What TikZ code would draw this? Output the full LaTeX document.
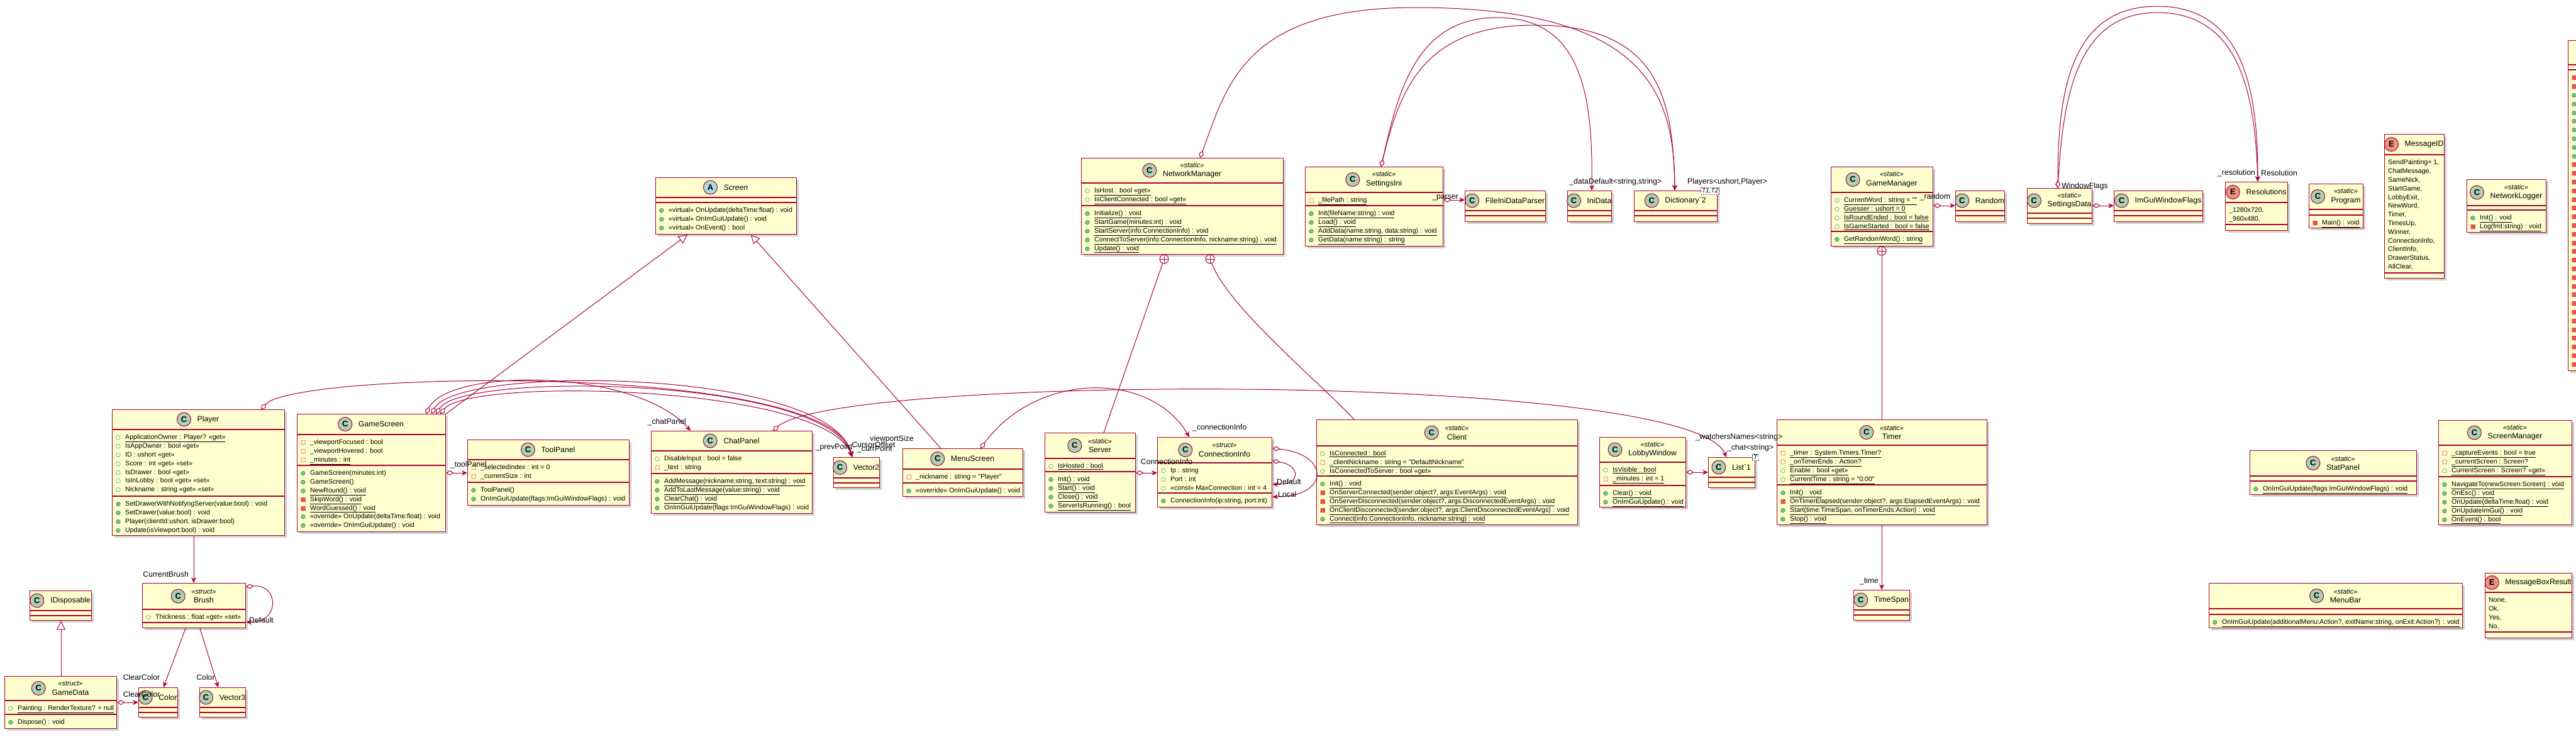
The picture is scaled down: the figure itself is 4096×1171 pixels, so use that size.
\documentclass[tikz,border=0pt]{standalone}
\usepackage{fontspec}
\newfontfamily\lsf{Liberation Sans}
\newfontfamily\symf{DejaVu Sans}
\usetikzlibrary{arrows.meta,shadows,calc}
\definecolor{bd}{HTML}{A80036}
\definecolor{bg}{HTML}{FEFECE}
\definecolor{cC}{HTML}{ADD1B2}
\definecolor{cE}{HTML}{EB937F}
\definecolor{cA}{HTML}{A9DCDF}
\definecolor{pubc}{HTML}{038048}
\definecolor{pubf}{HTML}{84BE84}
\definecolor{privc}{HTML}{C82930}
\definecolor{privf}{HTML}{F24D5C}
\newcommand\un[1]{\underline{#1}}
\newcommand\vicon[1]{\makebox[15pt][l]{\symf\fontsize{9}{9}\selectfont #1}}
\newcommand\ipf{\strut\vicon{\textcolor{pubc}{○}}}
\newcommand\ipm{\strut\vicon{\rlap{\textcolor{pubf}{●}}\textcolor{pubc}{○}}}
\newcommand\ivf{\strut\vicon{\textcolor{privc}{□}}}
\newcommand\ivm{\strut\vicon{\rlap{\textcolor{privf}{■}}\textcolor{privc}{□}}}
\newcommand\ev{\strut}
\newcommand\st[2]{{\fontsize{11}{13}\selectfont\itshape «#1»}\\#2}
\newcommand\uclass[9]{%
  \node[cbox, minimum width=#4, minimum height=#5+#6+#7] (#1) at (#2,#3) {};
  \draw[sepl] (#2,#3+#5) -- ++(#4,0);
  \draw[sepl] (#2,#3+#5+#6) -- ++(#4,0);
  \node[htext] (#1-t) at (#2+#4/2+16,#3+#5/2) {#9};
  \node[ic#8] (#1-i) at ($(#1-t.west)+(-21,0)$) {#8};
  \def\cx{#2}\def\cy{#3}\def\ch{#5}\def\chh{#6}\def\cn{#1}}
\newcommand\uatt[1]{\node[mtext] (\cn-a) at (\cx+6,\cy+\ch+6) {#1};}
\newcommand\umeth[1]{\node[mtext] (\cn-m) at (\cx+6,\cy+\ch+\chh+6) {#1};}
\tikzset{
  cbox/.style={rectangle, draw=bd, fill=bg, line width=1.3pt, anchor=north west, inner sep=0,
    drop shadow={shadow xshift=3pt, shadow yshift=-3pt, opacity=0.3, fill=black!60}},
  sepl/.style={draw=bd, line width=1.3pt},
  htext/.style={font=\lsf\fontsize{12.2}{14.5}\selectfont, align=center, inner sep=0},
  mtext/.style={anchor=north west, inner sep=0, align=left, font=\lsf\fontsize{10.6}{13.8}\selectfont},
  icC/.style={circle, draw=bd, line width=1pt, fill=cC, minimum size=22pt, inner sep=0,
    font=\lsf\bfseries\fontsize{13}{13}\selectfont},
  icE/.style={icC, fill=cE},
  icA/.style={icC, fill=cA},
  asc/.style={draw=bd, line width=1pt, -{Stealth[length=9pt, width=8pt, inset=3pt]}},
  agg/.style={draw=bd, line width=1pt, {Diamond[fill=white, length=12pt, width=8pt]}-{Stealth[length=9pt, width=8pt, inset=3pt]}},
  inh/.style={draw=bd, line width=1pt, -{Triangle[fill=white, length=14pt, width=14pt]}},
  pln/.style={draw=bd, line width=1pt},
  cplus/.style={circle, draw=bd, fill=white, line width=1pt, minimum size=14pt, inner sep=0,
    path picture={\draw[bd, line width=1pt] (path picture bounding box.north) -- (path picture bounding box.south)
      (path picture bounding box.west) -- (path picture bounding box.east);}},
  lbl/.style={font=\lsf\fontsize{12.2}{13}\selectfont, inner sep=0},
  tmpl/.style={draw=black, dash pattern=on 1.5pt off 1.5pt, line width=0.6pt, fill=white,
    font=\lsf\itshape\fontsize{10}{10}\selectfont, inner sep=1.5pt, anchor=north east}
}
\begin{document}
\begin{tikzpicture}[x=1pt, y=-1pt]
\lineskiplimit=-30pt\relax
\lineskip=0pt\relax
\useasboundingbox (0,0) rectangle (4096,1171);
\fill[white] (0,0) rectangle (4096,1171);

% ---------------- classes ----------------
\uclass{screen}{1042}{282}{224}{32}{8}{50}{A}{\textit{Screen}}
\umeth{\ipm «virtual» OnUpdate(deltaTime:float) : void\\ \ipm «virtual» OnImGuiUpdate() : void\\ \ipm «virtual» OnEvent() : bool}

\uclass{player}{178}{651}{274}{32}{106}{62}{C}{Player}
\uatt{\ipf\un{ApplicationOwner : Player? «get»}\\ \ipf IsAppOwner : bool «get»\\ \ipf ID : ushort «get»\\ \ipf Score : int «get» «set»\\ \ipf IsDrawer : bool «get»\\ \ipf IsInLobby : bool «get» «set»\\ \ipf Nickname : string «get» «set»}
\umeth{\ipm SetDrawerWithNotifyngServer(value:bool) : void\\ \ipm SetDrawer(value:bool) : void\\ \ipm Player(clientId:ushort, isDrawer:bool)\\ \ipm Update(isViewport:bool) : void}

\uclass{gamescreen}{472}{658}{236}{33}{49}{105}{C}{GameScreen}
\uatt{\ivf \_viewportFocused : bool\\ \ivf \_viewportHovered : bool\\ \ivf\un{\_minutes : int}}
\umeth{\ipm GameScreen(minutes:int)\\ \ipm GameScreen()\\ \ipm\un{NewRound() : void}\\ \ivm\un{SkipWord() : void}\\ \ivm\un{WordGuessed() : void}\\ \ipm «override» OnUpdate(deltaTime:float) : void\\ \ipm «override» OnImGuiUpdate() : void}

\uclass{toolpanel}{743}{699}{257}{32}{36}{36}{C}{ToolPanel}
\uatt{\ivf \_selectedIndex : int = 0\\ \ivf \_currentSize : int}
\umeth{\ipm ToolPanel()\\ \ipm OnImGuiUpdate(flags:ImGuiWindowFlags) : void}

\uclass{chatpanel}{1035}{685}{256}{32}{36}{63}{C}{ChatPanel}
\uatt{\ipf DisableInput : bool = false\\ \ivf \_text : string}
\umeth{\ipm\un{AddMessage(nickname:string, text:string) : void}\\ \ipm\un{AddToLastMessage(value:string) : void}\\ \ipm\un{ClearChat() : void}\\ \ipm OnImGuiUpdate(flags:ImGuiWindowFlags) : void}

\uclass{vector2}{1325}{727}{73}{33}{8}{7}{C}{Vector2}

\uclass{menuscreen}{1435}{713}{191}{33}{22}{21}{C}{MenuScreen}
\uatt{\ivf \_nickname : string = "Player"}
\umeth{\ipm «override» OnImGuiUpdate() : void}

\uclass{server}{1661}{688}{144}{41}{21}{64}{C}{\st{static}{Server}}
\uatt{\ipf\un{IsHosted : bool}}
\umeth{\ipm\un{Init() : void}\\ \ipm\un{Start() : void}\\ \ipm\un{Close() : void}\\ \ipm\un{ServerIsRunning() : bool}}

\uclass{conninfo}{1840}{695}{182}{41}{48}{22}{C}{\st{struct}{ConnectionInfo}}
\uatt{\ipf Ip : string\\ \ipf Port : int\\ \ipf «const» MaxConnection : int = 4}
\umeth{\ipm ConnectionInfo(ip:string, port:int)}

\uclass{client}{2093}{667}{415}{42}{48}{77}{C}{\st{static}{Client}}
\uatt{\ipf\un{IsConnected : bool}\\ \ivf\un{\_clientNickname : string = "DefaultNickname"}\\ \ipf\un{IsConnectedToServer : bool «get»}}
\umeth{\ipm\un{Init() : void}\\ \ivm\un{OnServerConnected(sender:object?, args:EventArgs) : void}\\ \ivm\un{OnServerDisconnected(sender:object?, args:DisconnectedEventArgs) : void}\\ \ivm\un{OnClientDisconnected(sender:object?, args:ClientDisconnectedEventArgs) : void}\\ \ipm\un{Connect(info:ConnectionInfo, nickname:string) : void}}

\uclass{lobby}{2543}{695}{137}{40}{37}{34}{C}{\st{static}{LobbyWindow}}
\uatt{\ipf\un{IsVisible : bool}\\ \ivf\un{\_minutes : int = 1}}
\umeth{\ipm\un{Clear() : void}\\ \ipm\un{OnImGuiUpdate() : void}}

\uclass{list}{2716}{727}{74}{32}{8}{8}{C}{List`1}
\node[tmpl] (list-T) at (2796,722) {T};

\uclass{timer}{2825}{667}{334}{41}{63}{63}{C}{\st{static}{Timer}}
\uatt{\ivf\un{\_timer : System.Timers.Timer?}\\ \ivf\un{\_onTimerEnds : Action?}\\ \ipf\un{Enable : bool «get»}\\ \ipf\un{CurrentTime : string = "0:00"}}
\umeth{\ipm\un{Init() : void}\\ \ivm\un{OnTimerElapsed(sender:object?, args:ElapsedEventArgs) : void}\\ \ipm\un{Start(time:TimeSpan, onTimerEnds:Action) : void}\\ \ipm\un{Stop() : void}}

\uclass{timespan}{2947}{938}{89}{32}{8}{8}{C}{TimeSpan}

\uclass{nm}{1719}{251}{321}{40}{36}{77}{C}{\st{static}{NetworkManager}}
\uatt{\ipf\un{IsHost : bool «get»}\\ \ipf\un{IsClientConnected : bool «get»}}
\umeth{\ipm\un{Initialize() : void}\\ \ipm\un{StartGame(minutes:int) : void}\\ \ipm\un{StartServer(info:ConnectionInfo) : void}\\ \ipm\un{ConnectToServer(info:ConnectionInfo, nickname:string) : void}\\ \ipm\un{Update() : void}}

\uclass{si}{2075}{265}{219}{41}{21}{64}{C}{\st{static}{SettingsIni}}
\uatt{\ivf\un{\_filePath : string}}
\umeth{\ipm\un{Init(fileName:string) : void}\\ \ipm\un{Load() : void}\\ \ipm\un{AddData(name:string, data:string) : void}\\ \ipm\un{GetData(name:string) : string}}

\uclass{fidp}{2329}{303}{128}{32}{8}{9}{C}{FileIniDataParser}
\uclass{inidata}{2492}{303}{70}{32}{8}{9}{C}{IniData}
\uclass{dict}{2598}{303}{132}{32}{8}{9}{C}{Dictionary`2}
\node[tmpl] (dict-T) at (2734,298) {T1,T2};

\uclass{gm}{2911}{265}{162}{41}{62}{23}{C}{\st{static}{GameManager}}
\uatt{\ipf\un{CurrentWord : string = ""}\\ \ipf\un{Guesser : ushort = 0}\\ \ipf\un{IsRoundEnded : bool = false}\\ \ipf\un{IsGameStarted : bool = false}}
\umeth{\ipm\un{GetRandomWord() : string}}

\uclass{random}{3109}{303}{78}{32}{8}{9}{C}{Random}
\uclass{sd}{3223}{299}{103}{40}{8}{8}{C}{\st{static}{SettingsData}}
\uclass{imgui}{3361}{303}{141}{32}{8}{9}{C}{ImGuiWindowFlags}
\uclass{res}{3538}{289}{99}{33}{35}{9}{E}{Resolutions}
\uatt{\ev\_1280x720,\\ \ev\_960x480,}
\uclass{program}{3671}{292}{86}{41}{9}{20}{C}{\st{static}{Program}}
\umeth{\ivm\un{Main() : void}}
\uclass{msgid}{3791}{213}{95}{33}{188}{8}{E}{MessageID}
\uatt{\ev SendPainting= 1,\\ \ev ChatMessage,\\ \ev SameNick,\\ \ev StartGame,\\ \ev LobbyExit,\\ \ev NewWord,\\ \ev Timer,\\ \ev TimesUp,\\ \ev Winner,\\ \ev ConnectionInfo,\\ \ev ClientInfo,\\ \ev DrawerStatus,\\ \ev AllClear,}
\uclass{nlog}{3922}{285}{126}{42}{7}{35}{C}{\st{static}{NetworkLogger}}
\umeth{\ipm\un{Init() : void}\\ \ivm\un{Log(fmt:string) : void}}

% partially visible class at the right edge
\node[cbox, minimum width=240, minimum height=525] (rcls) at (4083,64) {};
\draw[sepl] (4083,103) -- ++(240,0);
\draw[sepl] (4083,111) -- ++(240,0);
\node[mtext] (rcls-m) at (4089,117) {\ivm\\ \ivm\\ \ipm\\ \ipm\\ \ipm\\ \ipm\\ \ipm\\ \ipm\\ \ipm\\ \ipm\\ \ivm\\ \ivm\\ \ivm\\ \ivm\\ \ivm\\ \ivm\\ \ivm\\ \ivm\\ \ivm\\ \ivm\\ \ivm\\ \ivm\\ \ivm\\ \ivm\\ \ivm\\ \ivm\\ \ivm\\ \ivm\\ \ivm\\ \ivm\\ \ivm\\ \ivm\\ \ivm\\ \ivm};

\uclass{scrmgr}{3877}{668}{212}{40}{50}{76}{C}{\st{static}{ScreenManager}}
\uatt{\ivf\un{\_captureEvents : bool = true}\\ \ivf\un{\_currentScreen : Screen?}\\ \ipf\un{CurrentScreen : Screen? «get»}}
\umeth{\ipm\un{NavigateTo(newScreen:Screen) : void}\\ \ipm\un{OnEsc() : void}\\ \ipm\un{OnUpdate(deltaTime:float) : void}\\ \ipm\un{OnUpdateImGui() : void}\\ \ipm\un{OnEvent() : bool}}

\uclass{statp}{3577}{716}{265}{41}{8}{21}{C}{\st{static}{StatPanel}}
\umeth{\ipm\un{OnImGuiUpdate(flags:ImGuiWindowFlags) : void}}

\uclass{mbr}{3951}{911}{138}{31}{63}{9}{E}{MessageBoxResult}
\uatt{\ev None,\\ \ev Ok,\\ \ev Yes,\\ \ev No,}
\uclass{menubar}{3512}{927}{403}{41}{9}{21}{C}{\st{static}{MenuBar}}
\umeth{\ipm\un{OnImGuiUpdate(additionalMenu:Action?, exitName:string, onExit:Action?) : void}}

\uclass{brush}{226}{927}{164}{42}{21}{8}{C}{\st{struct}{Brush}}
\uatt{\ipf Thickness : float «get» «set»}
\uclass{idisp}{47}{939}{98}{32}{8}{7}{C}{IDisposable}
\uclass{gamedata}{7}{1075}{178}{39}{22}{22}{C}{\st{struct}{GameData}}
\uatt{\ipf\un{Painting : RenderTexture? = null}}
\umeth{\ipm Dispose() : void}
\uclass{color}{220}{1093}{62}{32}{8}{7}{C}{Color}
\uclass{vector3}{317}{1093}{73}{32}{8}{7}{C}{Vector3}

% ---------------- connectors ----------------
\draw[inh] (gamescreen.north east) -- ($(screen.south west)+(51,0)$);
\draw[inh] ($(menuscreen.north west)+(61,0)$) -- ($(screen.south west)+(152,0)$);
\draw[inh] ($(gamedata.north west)+(90,0)$) -- ($(idisp.south west)+(50,0)$);

\draw[asc] ($(player.south west)+(130,0)$) -- ($(brush.north west)+(82,0)$);
\node[lbl, anchor=east] (l-curbrush) at (300,913) {CurrentBrush};
\draw[asc] ($(brush.south west)+(69,0)$) -- ($(color.north west)+(40,0)$);
\node[lbl] (l-clear1) at (225,1077) {ClearColor};
\draw[asc] ($(brush.south west)+(92,0)$) -- ($(vector3.north west)+(30,0)$);
\node[lbl] (l-color) at (327,1077) {Color};
\draw[agg] ($(gamedata.north east)+(0,42)$) -- ($(color.north west)+(0,24)$);
\node[lbl] (l-clear2) at (225,1104) {ClearColor};
\draw[agg] ($(brush.north east)+(0,6)$) .. controls (445,928) and (445,992) .. ($(brush.north east)+(0,62)$);
\node[lbl, anchor=west] (l-bdef) at (396,986) {Default};

\draw[agg] ($(gamescreen.north east)+(0,94)$) -- ($(toolpanel.north west)+(0,53)$);
\node[lbl] (l-tool) at (745,739) {\_toolPanel};

\draw[agg] ($(gamescreen.north west)+(205,0)$) .. controls (715,585) and (1010,585) .. ($(chatpanel.north west)+(63,0)$);
\node[lbl, anchor=east] (l-chatp) at (1091,671) {\_chatPanel};
\draw[agg] ($(gamescreen.north west)+(214,0)$) .. controls (730,580) and (1322,585) .. ($(vector2.north west)+(30,0)$);
\draw[agg] ($(gamescreen.north west)+(221,0)$) .. controls (740,590) and (1318,600) .. ($(vector2.north west)+(30,0)$);
\draw[agg] ($(gamescreen.north west)+(228,0)$) .. controls (750,600) and (1314,612) .. ($(vector2.north west)+(30,0)$);
\draw[agg] ($(player.north west)+(237,0)$) .. controls (470,590) and (1326,575) .. ($(vector2.north west)+(30,0)$);
\node[lbl] (l-prev) at (1326,711) {\_prevPoint};
\node[lbl] (l-cursor) at (1389,707) {CursorOffset};
\node[lbl] (l-curr) at (1391,714) {\_currPoint};
\node[lbl] (l-vps) at (1418,698) {viewportSize};

\draw[agg] ($(chatpanel.north west)+(194,0)$) .. controls (1335,595) and (2690,590) .. ($(list.north west)+(29,0)$);
\draw[agg] ($(lobby.north east)+(0,56)$) -- ($(list.north west)+(0,24)$);
\node[lbl] (l-watch) at (2765,695) {\_watchersNames<string>};
\node[lbl] (l-chat) at (2783,712) {\_chat<string>};

\draw[agg] ($(menuscreen.north west)+(124,0)$) .. controls (1650,590) and (1830,590) .. ($(conninfo.north west)+(51,0)$);
\node[lbl, anchor=west] (l-conn) at (1896,680) {\_connectionInfo};
\draw[agg] ($(server.north east)+(0,64)$) -- ($(conninfo.north west)+(0,57)$);
\node[lbl] (l-conninfo) at (1855,734) {ConnectionInfo};
\draw[agg] ($(conninfo.north east)+(0,18)$) .. controls (2115,722) and (2115,790) .. ($(conninfo.north east)+(0,95)$);
\draw[agg] ($(conninfo.north east)+(0,38)$) .. controls (2069,740) and (2069,772) .. ($(conninfo.north east)+(0,75)$);
\node[lbl, anchor=west] (l-cdef) at (2030,766) {Default};
\node[lbl, anchor=west] (l-clocal) at (2032,786) {Local};

\node[cplus] (nm-p1) at (1851,412) {};
\node[cplus] (nm-p2) at (1924,412) {};
\draw[pln] (nm-p1) -- ($(server.north west)+(94,0)$);
\draw[pln] (nm-p2) .. controls (1955,490) and (2090,600) .. ($(client.north west)+(60,0)$);
\node[cplus] (gm-p) at (2992,399) {};
\draw[pln] (gm-p) -- ($(timer.north west)+(167,0)$);
\draw[asc] ($(timer.south west)+(167,0)$) -- ($(timespan.north west)+(45,0)$);
\node[lbl, anchor=east] (l-time) at (2987,924) {\_time};

\draw[agg] ($(nm.north west)+(189,0)$) .. controls (1950,140) and (1975,12) .. (2250,12) .. controls (2620,12) and (2662,150) .. ($(dict.north west)+(65,0)$);
\draw[agg] ($(si.north west)+(121,0)$) .. controls (2222,150) and (2250,28) .. (2380,28) .. controls (2515,28) and (2533,150) .. ($(inidata.north west)+(39,0)$);
\draw[agg] ($(si.north west)+(121,0)$) .. controls (2226,140) and (2265,40) .. (2440,40) .. controls (2640,40) and (2660,160) .. ($(dict.north west)+(65,0)$);
\node[lbl, anchor=east] (l-data) at (2526,289) {\_data};
\node[lbl, anchor=west] (l-default) at (2526,289) {Default<string,string>};
\node[lbl, anchor=west] (l-players) at (2683,289) {Players<ushort,Player>};

\draw[agg] ($(si.north east)+(0,53)$) -- ($(fidp.north west)+(0,15)$);
\node[lbl] (l-parser) at (2298,314) {\_parser};
\draw[agg] ($(gm.north east)+(0,62)$) -- ($(random.north west)+(0,24)$);
\node[lbl] (l-random) at (3077,313) {\_random};
\draw[agg] ($(sd.north east)+(0,28)$) -- ($(imgui.north west)+(0,24)$);
\node[lbl] (l-wf) at (3315,296) {WindowFlags};
\draw[agg] ($(sd.north west)+(49,0)$) .. controls (3272,150) and (3290,10) .. (3430,10) .. controls (3575,10) and (3590,160) .. ($(res.north west)+(52,0)$);
\draw[agg] ($(sd.north west)+(49,0)$) .. controls (3280,160) and (3300,20) .. (3430,20) .. controls (3566,20) and (3586,160) .. ($(res.north west)+(52,0)$);
\node[lbl, anchor=east] (l-res1) at (3586,275) {\_resolution};
\node[lbl, anchor=west] (l-res2) at (3595,275) {Resolution};
\end{tikzpicture}
\end{document}
